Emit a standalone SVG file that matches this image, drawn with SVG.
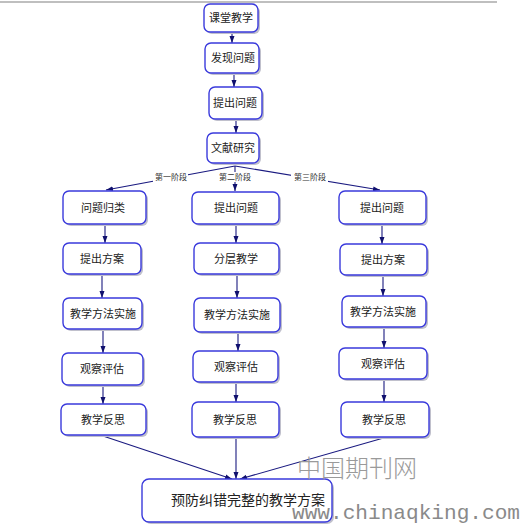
<svg xmlns="http://www.w3.org/2000/svg" width="523" height="527" viewBox="0 0 523 527">
<style>
.box{fill:#fff;stroke:#3a3adc;stroke-width:1.4}
.sh{fill:#c0c0cc}
.t{font-family:"Noto Sans CJK SC","Liberation Sans",sans-serif;font-size:11px;fill:#222;text-anchor:middle}
.big{font-size:14px}
.lbl{font-family:"Noto Sans CJK SC",sans-serif;font-size:8px;fill:#333;text-anchor:middle}
.c{stroke:#1a1a80;stroke-width:1.1;fill:none;marker-end:url(#ah)}
.wm{font-family:"Noto Sans CJK SC",serif;font-size:24px;fill:#9a9a9a;font-weight:300}
.wm2{font-family:"Liberation Mono",monospace;font-size:21px;fill:#8a8a8a}
</style>
<defs>
<marker id="ah" markerUnits="userSpaceOnUse" markerWidth="8" markerHeight="8" refX="7" refY="3" orient="auto">
<path d="M0,0.5 L7,3 L0,5.5 z" fill="#10106e"/>
</marker>
</defs>
<rect width="523" height="527" fill="#fff"/>
<line x1="0" y1="2" x2="497" y2="2" stroke="#aaa" stroke-width="1.5"/>

<g id="connectors">
<line class="c" x1="232" y1="33" x2="232" y2="43"/>
<line class="c" x1="234" y1="74" x2="234" y2="87"/>
<line class="c" x1="236" y1="120" x2="236" y2="133"/>
<line class="c" x1="235" y1="166" x2="106" y2="190"/>
<line class="c" x1="235" y1="166" x2="235" y2="191"/>
<line class="c" x1="235" y1="166" x2="380" y2="190"/>
<line class="c" x1="105" y1="224" x2="105" y2="243"/>
<line class="c" x1="102" y1="274" x2="102" y2="298"/>
<line class="c" x1="103" y1="329" x2="103" y2="353"/>
<line class="c" x1="103" y1="385" x2="103" y2="404"/>
<line class="c" x1="236" y1="224" x2="236" y2="243"/>
<line class="c" x1="237" y1="274" x2="237" y2="298"/>
<line class="c" x1="238" y1="332" x2="238" y2="351"/>
<line class="c" x1="236" y1="382" x2="236" y2="402"/>
<line class="c" x1="382" y1="224" x2="382" y2="244"/>
<line class="c" x1="383" y1="275" x2="383" y2="296"/>
<line class="c" x1="384" y1="327" x2="384" y2="348"/>
<line class="c" x1="384" y1="379" x2="384" y2="402"/>
<line class="c" x1="103" y1="436" x2="232" y2="479"/>
<line class="c" x1="236" y1="437" x2="236" y2="479"/>
<line class="c" x1="387" y1="437" x2="240" y2="479"/>
<rect x="153" y="172" width="35" height="10" fill="#fff"/>
<rect x="218" y="172" width="35" height="10" fill="#fff"/>
<rect x="291" y="172" width="37" height="10" fill="#fff"/>
<text class="lbl" x="171" y="180">第一阶段</text>
<text class="lbl" x="235" y="180">第二阶段</text>
<text class="lbl" x="310" y="180">第三阶段</text>
</g>

<g id="n1"><rect class="sh" x="206" y="6" width="54" height="28" rx="6"/><rect class="box" x="204" y="4" width="54" height="28" rx="6"/><text class="t" x="231" y="22">课堂教学</text></g>
<g id="n2"><rect class="sh" x="207" y="45" width="54" height="30" rx="6"/><rect class="box" x="205" y="43" width="54" height="30" rx="6"/><text class="t" x="233" y="62">发现问题</text></g>
<g id="n3"><rect class="sh" x="211" y="89" width="53" height="32" rx="6"/><rect class="box" x="209" y="87" width="53" height="32" rx="6"/><text class="t" x="235" y="107">提出问题</text></g>
<g id="n4"><rect class="sh" x="209" y="135" width="52" height="30" rx="6"/><rect class="box" x="207" y="133" width="52" height="30" rx="6"/><text class="t" x="233" y="152">文献研究</text></g>

<g id="a1"><rect class="sh" x="65" y="193" width="83" height="33" rx="6"/><rect class="box" x="63" y="191" width="83" height="33" rx="6"/><text class="t" x="103" y="212">问题归类</text></g>
<g id="a2"><rect class="sh" x="65" y="245" width="78" height="31" rx="6"/><rect class="box" x="63" y="243" width="78" height="31" rx="6"/><text class="t" x="102" y="263">提出方案</text></g>
<g id="a3"><rect class="sh" x="65" y="300" width="79" height="31" rx="6"/><rect class="box" x="63" y="298" width="79" height="31" rx="6"/><text class="t" x="103" y="318">教学方法实施</text></g>
<g id="a4"><rect class="sh" x="64" y="355" width="81" height="32" rx="6"/><rect class="box" x="62" y="353" width="81" height="32" rx="6"/><text class="t" x="102" y="373">观察评估</text></g>
<g id="a5"><rect class="sh" x="63" y="406" width="85" height="31" rx="6"/><rect class="box" x="61" y="404" width="85" height="31" rx="6"/><text class="t" x="103" y="424">教学反思</text></g>

<g id="b1"><rect class="sh" x="194" y="194" width="87" height="32" rx="6"/><rect class="box" x="192" y="192" width="87" height="32" rx="6"/><text class="t" x="236" y="212">提出问题</text></g>
<g id="b2"><rect class="sh" x="196" y="245" width="85" height="31" rx="6"/><rect class="box" x="194" y="243" width="85" height="31" rx="6"/><text class="t" x="236" y="263">分层教学</text></g>
<g id="b3"><rect class="sh" x="196" y="300" width="86" height="34" rx="6"/><rect class="box" x="194" y="298" width="86" height="34" rx="6"/><text class="t" x="237" y="319">教学方法实施</text></g>
<g id="b4"><rect class="sh" x="195" y="353" width="85" height="31" rx="6"/><rect class="box" x="193" y="351" width="85" height="31" rx="6"/><text class="t" x="236" y="371">观察评估</text></g>
<g id="b5"><rect class="sh" x="194" y="404" width="87" height="35" rx="6"/><rect class="box" x="192" y="402" width="87" height="35" rx="6"/><text class="t" x="235" y="424">教学反思</text></g>

<g id="c1"><rect class="sh" x="341" y="193" width="87" height="33" rx="6"/><rect class="box" x="339" y="191" width="87" height="33" rx="6"/><text class="t" x="382" y="212">提出问题</text></g>
<g id="c2"><rect class="sh" x="342" y="246" width="87" height="31" rx="6"/><rect class="box" x="340" y="244" width="87" height="31" rx="6"/><text class="t" x="383" y="264">提出方案</text></g>
<g id="c3"><rect class="sh" x="344" y="298" width="84" height="31" rx="6"/><rect class="box" x="342" y="296" width="84" height="31" rx="6"/><text class="t" x="383" y="316">教学方法实施</text></g>
<g id="c4"><rect class="sh" x="341" y="350" width="88" height="31" rx="6"/><rect class="box" x="339" y="348" width="88" height="31" rx="6"/><text class="t" x="383" y="368">观察评估</text></g>
<g id="c5"><rect class="sh" x="343" y="404" width="88" height="35" rx="6"/><rect class="box" x="341" y="402" width="88" height="35" rx="6"/><text class="t" x="384" y="424">教学反思</text></g>

<g id="final"><rect class="sh" x="144" y="481" width="190" height="43" rx="7"/><rect class="box" x="142" y="479" width="190" height="43" rx="7"/><text class="t big" x="248" y="505">预防纠错完整的教学方案</text></g>

<text class="wm" x="297" y="477" textLength="120" lengthAdjust="spacingAndGlyphs">中国期刊网</text>
<text class="wm2" x="292" y="519" textLength="228" lengthAdjust="spacingAndGlyphs">www.chinaqking.com</text>
</svg>
